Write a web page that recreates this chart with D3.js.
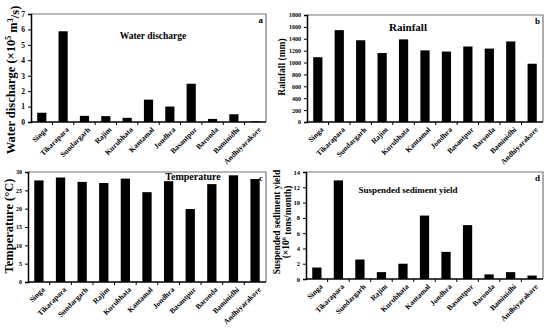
<!DOCTYPE html>
<html>
<head>
<meta charset="utf-8">
<script src="https://cdn.jsdelivr.net/npm/d3@7"></script>
<style>
body { margin:0; background:#fff; }
svg text { font-family: "Liberation Serif", "Times New Roman", serif; font-weight: bold; fill:#000; }
</style>
</head>
<body>
<svg id="chart" width="550" height="331"></svg>
<script>
// stations (same for every panel)
var stations = ["Singa","Tikarapara","Sundargarh","Rajim","Kurubhata","Kantamal","Jondhra","Basantpur","Baronda","Baminidhi","Andhiyarakore"];

// values
var discharge = [0.6, 5.88, 0.4, 0.38, 0.27, 1.45, 1.0, 2.48, 0.2, 0.5, 0.05];
var rainfall = [1090, 1545, 1375, 1160, 1390, 1205, 1185, 1270, 1235, 1355, 980];
var temperature = [27.7, 28.5, 27.3, 27.0, 28.2, 24.5, 27.5, 19.9, 26.7, 29.1, 28.1];
var sediment = [1.5, 12.9, 2.55, 0.9, 2.0, 8.3, 3.55, 7.05, 0.6, 0.9, 0.45];

var svg = d3.select("#chart");

//draws one panel of the 2x2 figure
function drawPanel(p)
{
    var g = svg.append("g");
    var x = d3.scaleBand().domain(stations).range([p.left, p.right]).paddingInner(0.57).paddingOuter(0.29);
    var y = d3.scaleLinear().domain([0, p.max]).range([p.bottom, p.top]);

    // frame: top/right grey
    g.append("path")
        .attr("d", "M" + p.left + "," + p.top + "H" + p.right + "V" + p.bottom)
        .attr("fill", "none").attr("stroke", "#777").attr("stroke-width", 1.2);

    g.selectAll("rect.bar")
        .data(p.values)
        .enter()
        .append("rect")
        .attr("class", "bar")
        .attr("x", function(d, i){ return x(stations[i]); })
        .attr("width", x.bandwidth())
        .attr("y", function(d){ return y(d); })
        .attr("height", function(d){ return p.bottom - y(d); })
        .attr("fill", "#000");

    // y axis
    var yAxis = d3.axisLeft(y).tickValues(d3.range(0, p.max + p.step / 2, p.step))
        .tickFormat(d3.format("d")).tickSize(3).tickPadding(3);
    var ya = g.append("g").attr("transform", "translate(" + p.left + ",0)").call(yAxis);
    ya.select(".domain").attr("stroke", "#000").attr("stroke-width", 1.5);
    ya.selectAll(".tick line").attr("stroke", "#000");
    ya.selectAll("text").style("font-size", p.tickSize + "px").style("font-family", "Liberation Serif").style("font-weight", "bold");

    // x axis, ticks at band edges
    var xa = g.append("g").attr("transform", "translate(0," + p.bottom + ")");
    xa.append("line").attr("x1", p.left).attr("x2", p.right).attr("stroke", "#000").attr("stroke-width", 1.5);
    var step = x.step();
    xa.selectAll("line.tk")
        .data(stations.slice(1))
        .enter()
        .append("line")
        .attr("class", "tk")
        .attr("x1", function(d){ return x(d) - step * x.paddingInner() / 2; })
        .attr("x2", function(d){ return x(d) - step * x.paddingInner() / 2; })
        .attr("y1", 0).attr("y2", 3)
        .attr("stroke", "#000");
    xa.selectAll("text")
        .data(stations)
        .enter()
        .append("text")
        .attr("transform", function(d){ return "translate(" + (x(d) + x.bandwidth() / 2 + 3) + ",5) rotate(-45)"; })
        .attr("text-anchor", "end")
        .attr("dy", "0.6em")
        .style("font-size", "7.5px")
        .text(function(d){ return d; });

    // y title
    var yt = g.append("text")
        .attr("transform", "translate(" + p.titleX + "," + p.titleY + ") rotate(-90)")
        .attr("text-anchor", "middle")
        .style("font-size", p.titleSize + "px");
    p.yTitle.forEach(function(line, i){
        var ts = yt.append("tspan").attr("x", 0).attr("dy", i == 0 ? 0 : "0.95em");
        line.forEach(function(part){
            var s = ts.append("tspan").text(part.t);
            if(part.sup) s.attr("dy", "-0.45em").style("font-size", "0.65em");
            if(part.after) s.attr("dy", "0.45em");
        });
    });

    // panel title and letter
    g.append("text").attr("x", p.nameX).attr("y", p.nameY).attr("text-anchor", "middle")
        .style("font-size", p.nameSize + "px").text(p.name);
    g.append("text").attr("x", p.right - 3).attr("y", p.top + 9).attr("text-anchor", "end")
        .style("font-size", "9px").text(p.letter);
}

drawPanel({values: discharge, max: 7, step: 1, left: 31, right: 266, top: 14, bottom: 122, tickSize: 7.5,
    yTitle: [[{t:"Water discharge (×10"},{t:"5",sup:true},{t:" m",after:true},{t:"3",sup:true},{t:"/s)",after:true}]],
    titleX: 15, titleY: 80, titleSize: 12.5,
    name: "Water discharge", nameX: 153, nameY: 39, nameSize: 9.5, letter: "a"});

drawPanel({values: rainfall, max: 1800, step: 200, left: 307, right: 543, top: 15, bottom: 122, tickSize: 6,
    yTitle: [[{t:"Rainfall (mm)"}]],
    titleX: 285, titleY: 67, titleSize: 9.5,
    name: "Rainfall", nameX: 408, nameY: 31, nameSize: 11, letter: "b"});

drawPanel({values: temperature, max: 30, step: 5, left: 28, right: 266, top: 172, bottom: 282, tickSize: 6,
    yTitle: [[{t:"Temperature (°C)"}]],
    titleX: 13, titleY: 226, titleSize: 12.5,
    name: "Temperature", nameX: 193, nameY: 180, nameSize: 10, letter: "c"});

drawPanel({values: sediment, max: 14, step: 2, left: 306, right: 543, top: 172, bottom: 279, tickSize: 6.5,
    yTitle: [[{t:"Suspended sediment yield"}], [{t:"(×10"},{t:"6",sup:true},{t:" tons/month)",after:true}]],
    titleX: 280, titleY: 222, titleSize: 9.5,
    name: "Suspended  sediment  yield", nameX: 408, nameY: 193, nameSize: 9, letter: "d"});
</script>
</body>
</html>
